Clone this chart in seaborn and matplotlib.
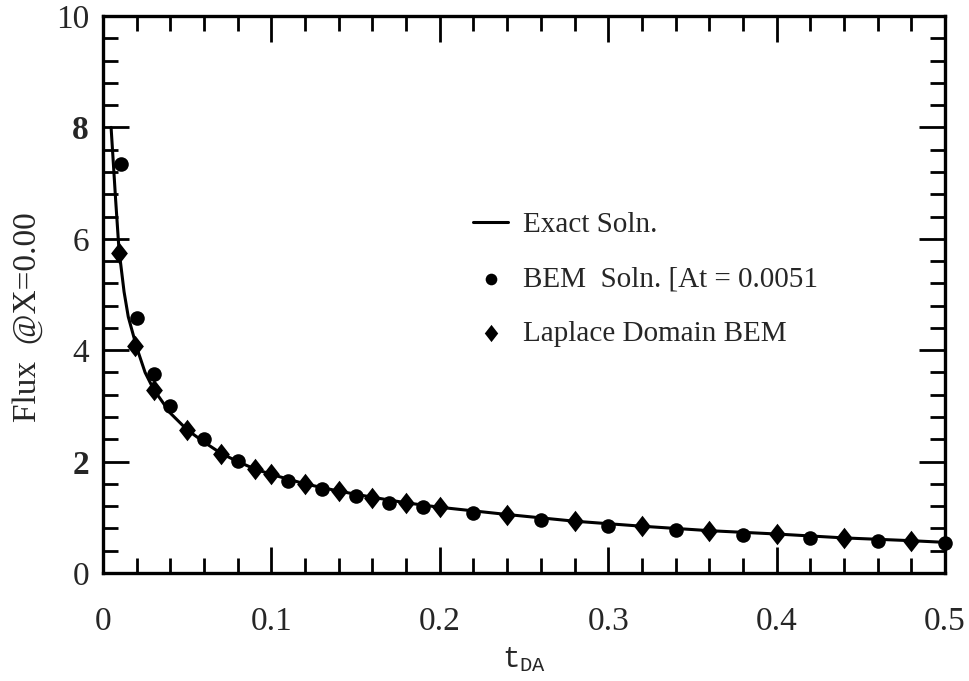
import numpy as np
import matplotlib
matplotlib.use("Agg")
import matplotlib.pyplot as plt
from matplotlib.path import Path
import seaborn as sns
import pandas as pd

# exact solution curve
exact_t = [0.0048, 0.0075, 0.0095, 0.0125, 0.015, 0.02, 0.025, 0.03, 0.04, 0.05,
           0.06, 0.07, 0.08, 0.09, 0.10, 0.12, 0.14, 0.16, 0.18, 0.20,
           0.24, 0.28, 0.32, 0.36, 0.40, 0.44, 0.48, 0.50]
exact_flux = [8.0, 6.7, 5.8, 5.05, 4.6, 4.05, 3.6, 3.3, 2.87, 2.57,
              2.35, 2.15, 2.0, 1.87, 1.77, 1.60, 1.47, 1.36, 1.26, 1.18,
              1.05, 0.93, 0.84, 0.76, 0.70, 0.63, 0.58, 0.55]

# BEM solution, circles
bem_t = [0.0107, 0.02, 0.03, 0.04, 0.06, 0.08, 0.11, 0.13, 0.15, 0.17,
         0.19, 0.22, 0.26, 0.30, 0.34, 0.38, 0.42, 0.46, 0.50]
bem_flux = [7.35, 4.58, 3.58, 3.0, 2.40, 2.01, 1.66, 1.50, 1.38, 1.26,
            1.18, 1.08, 0.96, 0.85, 0.77, 0.69, 0.63, 0.58, 0.53]

# Laplace domain BEM, diamonds
lap_t = [0.0095, 0.019, 0.03, 0.05, 0.07, 0.09, 0.10, 0.12, 0.14, 0.16,
         0.18, 0.20, 0.24, 0.28, 0.32, 0.36, 0.40, 0.44, 0.48]
lap_flux = [5.74, 4.07, 3.29, 2.57, 2.13, 1.86, 1.77, 1.59, 1.47, 1.35,
            1.25, 1.18, 1.05, 0.93, 0.84, 0.76, 0.70, 0.63, 0.58]

x_ticks = [0, 0.1, 0.2, 0.3, 0.4, 0.5]
x_tick_labels = ["0", "0.1", "0.2", "0.3", "0.4", "0.5"]
y_ticks = [0, 2, 4, 6, 8, 10]
y_tick_labels = ["0", "2", "4", "6", "8", "10"]

sns.set_theme(style="ticks")
plt.rcParams["font.family"] = ["Liberation Serif", "DejaVu Serif"]
plt.rcParams["mathtext.fontset"] = "custom"
plt.rcParams["mathtext.tt"] = "Liberation Mono"
plt.rcParams["mathtext.rm"] = "Liberation Serif"

exact_df = pd.DataFrame({"t": exact_t, "flux": exact_flux})
bem_df = pd.DataFrame({"t": bem_t, "flux": bem_flux})
lap_df = pd.DataFrame({"t": lap_t, "flux": lap_flux})

# slightly narrow diamond, like the original print
diamond = Path([(0, 1), (0.78, 0), (0, -1), (-0.78, 0), (0, 1)],
               [Path.MOVETO, Path.LINETO, Path.LINETO, Path.LINETO, Path.CLOSEPOLY])

fig = plt.figure(figsize=(9.69, 6.81), dpi=100)
ax = fig.add_axes([0.1063, 0.1586, 0.8689, 0.8179])

sns.lineplot(data=exact_df, x="t", y="flux", ax=ax, color="black", linewidth=2.2,
             sort=False, estimator=None, label="Exact Soln.")
sns.scatterplot(data=bem_df, x="t", y="flux", ax=ax, color="black", marker="o",
                s=110, linewidth=0, label="BEM  Soln. [At = 0.0051", clip_on=False, zorder=5)
sns.scatterplot(data=lap_df, x="t", y="flux", ax=ax, color="black", marker=diamond,
                s=240, linewidth=0, label="Laplace Domain BEM", zorder=5)

ax.set_xlim(0, 0.5)
ax.set_ylim(0, 10)
ax.set_xticks(x_ticks, labels=x_tick_labels)
ax.set_yticks(y_ticks, labels=y_tick_labels)
ax.set_xticks(np.arange(0, 0.5001, 0.02), minor=True)
ax.set_yticks(np.arange(0, 10.001, 0.4), minor=True)

ax.tick_params(which="both", direction="in", top=True, right=True, color="black")
ax.tick_params(which="major", length=19, width=2, labelsize=24)
ax.tick_params(which="minor", length=11, width=2)
ax.tick_params(axis="x", which="major", pad=24)
ax.tick_params(axis="y", which="major", pad=10)
for lbl in ax.get_yticklabels():
    if lbl.get_text() in ("8", "2"):
        lbl.set_fontweight("bold")

for sp in ax.spines.values():
    sp.set_linewidth(2.4)
    sp.set_color("black")

ax.set_xlabel(r"$\mathtt{t_{DA}}$", fontsize=21, labelpad=6)
ax.set_ylabel("Flux  @X=0.00", fontsize=24)
ax.yaxis.set_label_coords(-0.071, 0.46)

leg = ax.legend(loc="upper left", bbox_to_anchor=(0.44, 0.648), frameon=False,
                fontsize=21, handlelength=1.2, handletextpad=0.5, labelspacing=0.95,
                borderpad=0, borderaxespad=0, markerscale=0.8)

plt.savefig("out.png", dpi=100)
